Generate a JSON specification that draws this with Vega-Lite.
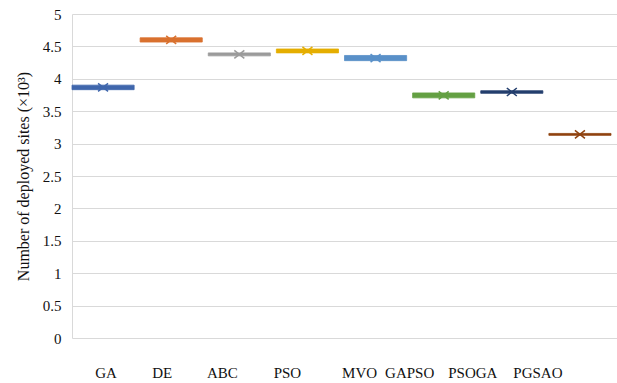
{
  "$schema": "https://vega.github.io/schema/vega-lite/v6.json",
  "width": 545,
  "height": 324,
  "autosize": {"type": "none"},
  "padding": {"left": 72, "top": 14, "right": 0, "bottom": 45},
  "background": "white",
  "data": {"values": [
    {"alg": "GA", "q1": 3.832, "q3": 3.902, "mean": 3.867, "color": "#3F66AC"},
    {"alg": "DE", "q1": 4.567, "q3": 4.633, "mean": 4.600, "color": "#D9712F"},
    {"alg": "ABC", "q1": 4.354, "q3": 4.400, "mean": 4.377, "color": "#9B9B9B"},
    {"alg": "PSO", "q1": 4.400, "q3": 4.460, "mean": 4.430, "color": "#E5AE00"},
    {"alg": "MVO", "q1": 4.280, "q3": 4.360, "mean": 4.320, "color": "#5990C8"},
    {"alg": "GAPSO", "q1": 3.706, "q3": 3.782, "mean": 3.744, "color": "#64A043"},
    {"alg": "PSOGA", "q1": 3.776, "q3": 3.816, "mean": 3.796, "color": "#243F6E"},
    {"alg": "PGSAO", "q1": 3.127, "q3": 3.157, "mean": 3.142, "color": "#8F420F"}
  ]},
  "encoding": {
    "x": {
      "field": "alg", "type": "nominal", "sort": null,
      "scale": {"paddingInner": 0.088, "paddingOuter": 0.044, "align": 0},
      "axis": {
        "title": null, "labelAngle": 0, "domain": false, "ticks": false, "grid": false,
        "labelFont": "Liberation Serif", "labelFontSize": 15, "labelColor": "#111",
        "labelPadding": 27, "labelOverlap": false,
        "labelOffset": {"condition": [
          {"test": "datum.value == 'GA'", "value": 3},
          {"test": "datum.value == 'DE'", "value": -9},
          {"test": "datum.value == 'ABC'", "value": -17},
          {"test": "datum.value == 'PSO'", "value": -20},
          {"test": "datum.value == 'MVO'", "value": -16},
          {"test": "datum.value == 'GAPSO'", "value": -34},
          {"test": "datum.value == 'PSOGA'", "value": -39}
        ], "value": -42}
      }
    }
  },
  "layer": [
    {
      "mark": {"type": "bar", "strokeWidth": 0.8},
      "encoding": {
        "y": {
          "field": "q1", "type": "quantitative",
          "scale": {"domain": [0, 5], "nice": false},
          "axis": {
            "values": [0, 0.5, 1, 1.5, 2, 2.5, 3, 3.5, 4, 4.5, 5],
            "format": "~g",
            "labelOverlap": false,
            "title": "Number of deployed sites (×10³)",
            "titleFont": "Liberation Serif", "titleFontSize": 16, "titleFontWeight": "normal",
            "titleColor": "#111", "titlePadding": 11,
            "labelFont": "Liberation Serif", "labelFontSize": 15, "labelColor": "#111",
            "labelPadding": 11, "ticks": false,
            "domain": true, "domainColor": "#d9d9d9", "domainWidth": 1,
            "gridColor": "#d9d9d9", "gridWidth": 1
          }
        },
        "y2": {"field": "q3"},
        "color": {"field": "color", "type": "nominal", "scale": null},
        "stroke": {"field": "color", "type": "nominal", "scale": null}
      }
    },
    {
      "mark": {"type": "point", "shape": "M-1,-0.8L1,0.8M1,-0.8L-1,0.8", "filled": false, "size": 100, "strokeWidth": 1.5, "opacity": 1},
      "encoding": {
        "y": {
          "field": "mean", "type": "quantitative",
          "axis": {
            "values": [0, 0.5, 1, 1.5, 2, 2.5, 3, 3.5, 4, 4.5, 5],
            "format": "~g",
            "labelOverlap": false,
            "title": "Number of deployed sites (×10³)",
            "titleFont": "Liberation Serif", "titleFontSize": 16, "titleFontWeight": "normal",
            "titleColor": "#111", "titlePadding": 11,
            "labelFont": "Liberation Serif", "labelFontSize": 15, "labelColor": "#111",
            "labelPadding": 11, "ticks": false,
            "domain": true, "domainColor": "#d9d9d9", "domainWidth": 1,
            "gridColor": "#d9d9d9", "gridWidth": 1
          }
        },
        "stroke": {"field": "color", "type": "nominal", "scale": null}
      }
    }
  ],
  "config": {
    "view": {"stroke": null},
    "font": "Liberation Serif"
  }
}
